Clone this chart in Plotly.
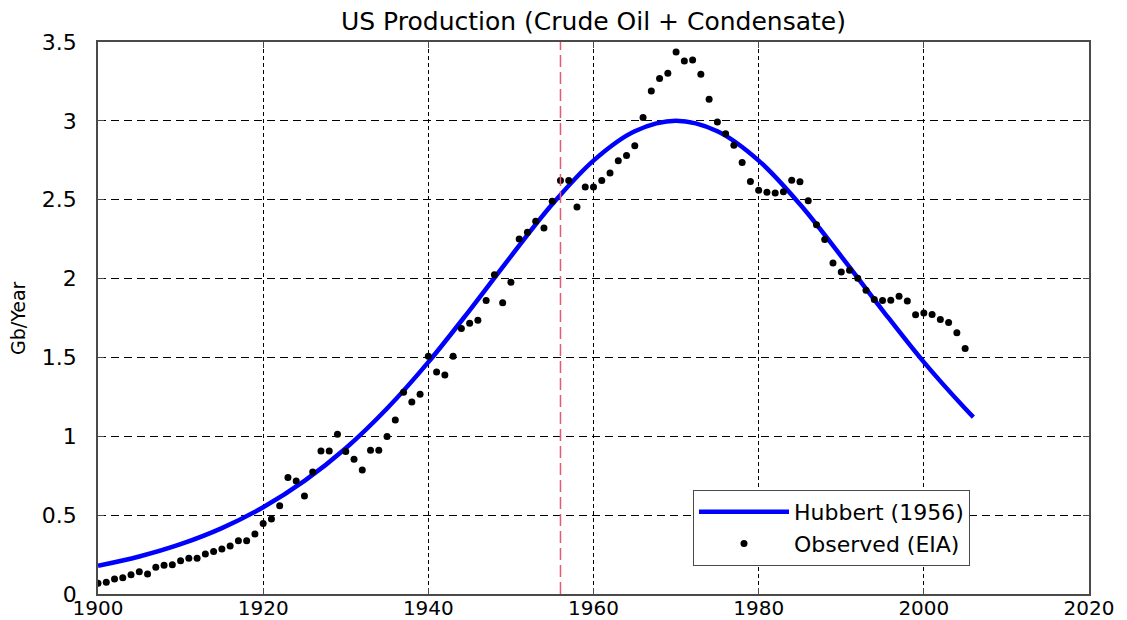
import plotly.graph_objects as go

# Observed (EIA) US crude oil + condensate production, Gb/year
obs_years = list(range(1900, 2006))
obs_values = [
    0.068, 0.074, 0.095, 0.103, 0.122, 0.141, 0.127, 0.169, 0.183, 0.186,
    0.211, 0.226, 0.226, 0.253, 0.270, 0.285, 0.304, 0.337, 0.337, 0.380,
    0.447, 0.475, 0.559, 0.738, 0.717, 0.622, 0.774, 0.907, 0.907, 1.013,
    0.903, 0.854, 0.787, 0.911, 0.911, 0.998, 1.103, 1.280, 1.217, 1.266,
    1.508, 1.407, 1.388, 1.508, 1.684, 1.717, 1.736, 1.861, 2.025, 1.846,
    1.977, 2.251, 2.293, 2.363, 2.321, 2.491, 2.622, 2.622, 2.454, 2.580,
    2.580, 2.622, 2.669, 2.747, 2.781, 2.842, 3.021, 3.190, 3.268, 3.302,
    3.437, 3.380, 3.386, 3.295, 3.137, 2.992, 2.918, 2.846, 2.736, 2.615,
    2.560, 2.548, 2.542, 2.551, 2.624, 2.614, 2.494, 2.342, 2.247, 2.099,
    2.042, 2.053, 2.002, 1.926, 1.867, 1.861, 1.863, 1.888, 1.857, 1.770,
    1.781, 1.772, 1.741, 1.722, 1.656, 1.557,
]

# Hubbert (1956) curve
hub_years = [1900, 1905, 1910, 1915, 1920, 1925, 1930, 1935, 1940, 1945,
             1950, 1955, 1960, 1965, 1970, 1975, 1980, 1985, 1990, 1995,
             2000, 2005, 2006]
hub_values = [0.179, 0.238, 0.316, 0.418, 0.550, 0.717, 0.924, 1.176, 1.470,
              1.799, 2.141, 2.471, 2.748, 2.934, 3.000, 2.934, 2.748, 2.471,
              2.141, 1.799, 1.470, 1.176, 1.122]

prediction_year = 1956

x_ticks = [1900, 1920, 1940, 1960, 1980, 2000, 2020]
y_ticks = [0, 0.5, 1, 1.5, 2, 2.5, 3, 3.5]
y_tick_text = ["0", "0.5", "1", "1.5", "2", "2.5", "3", "3.5"]

FONT = "DejaVu Sans"

# page body has an 8px margin; size the figure so the plot box lands
# at x 98..1089, y 42..594 in the 1127x620 window
W, H = 1119, 612

fig = go.Figure()
fig.add_trace(go.Scatter(
    x=hub_years, y=hub_values, mode="lines", name="Hubbert (1956)",
    line=dict(color="#0000ff", width=4.5, shape="spline", smoothing=1.0),
))
fig.add_trace(go.Scatter(
    x=obs_years, y=obs_values, mode="markers", name="Observed (EIA)",
    marker=dict(color="black", size=7, line=dict(width=0)),
))

fig.add_shape(type="line", xref="x", yref="paper",
              x0=prediction_year, x1=prediction_year, y0=0, y1=1,
              line=dict(color="rgb(228,90,110)", width=1.5, dash="12px,5px"),
              layer="above")

axis_common = dict(
    showline=True, linecolor="#4a4a4a", linewidth=1.5, mirror="ticks",
    ticks="inside", ticklen=6, tickcolor="#4a4a4a",
    showgrid=True, gridcolor="black", gridwidth=1, automargin=False,
    zeroline=False,
)

fig.update_xaxes(range=[1900, 2020], tickvals=x_ticks,
                 griddash="4px,3px", ticklabelstandoff=-5,
                 tickfont=dict(family=FONT, size=20, color="black"),
                 **axis_common)
fig.update_yaxes(range=[0, 3.5], tickvals=y_ticks, ticktext=y_tick_text,
                 griddash="8px,5px", ticklabelstandoff=15,
                 tickfont=dict(family=FONT, size=22, color="black"),
                 **axis_common)

fig.add_annotation(text="Gb/Year", xref="paper", yref="paper",
                   x=(18 - 98) / 991, y=0.5, xanchor="center", yanchor="middle",
                   textangle=-90, showarrow=False,
                   font=dict(family=FONT, size=19, color="black"))

fig.update_layout(
    width=W, height=H,
    margin=dict(l=90, r=38, t=34, b=26, autoexpand=False),
    paper_bgcolor="white", plot_bgcolor="white",
    title=dict(text="US Production (Crude Oil + Condensate)",
               x=0.5, xref="paper", xanchor="center",
               y=1 - 13 / H, yref="container", yanchor="middle",
               font=dict(family=FONT, size=25, color="black")),
    legend=dict(x=(693 - 98) / 991, y=(594 - 490) / 552,
                xanchor="left", yanchor="top",
                bgcolor="white", bordercolor="#4a4a4a", borderwidth=1,
                font=dict(family=FONT, size=22, color="black"),
                itemwidth=90, tracegroupgap=0),
    showlegend=True,
)

fig.write_html("out.html")
